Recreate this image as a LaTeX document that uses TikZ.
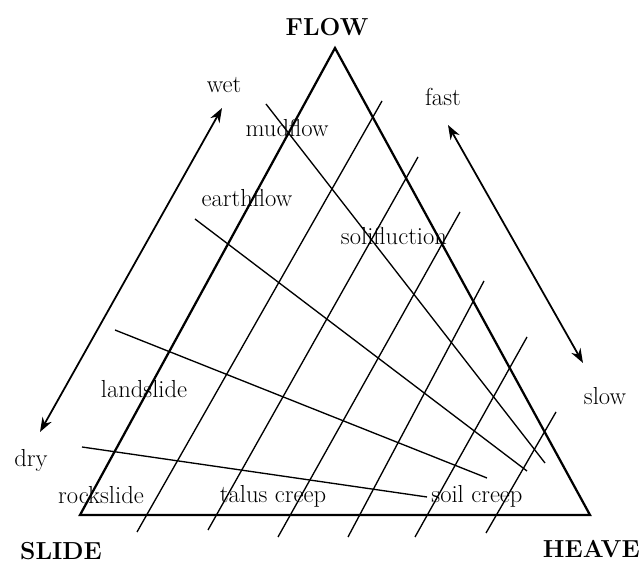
\documentclass[tikz,border=0pt]{standalone}
\usepackage{tikz}
\usetikzlibrary{arrows.meta}

\begin{document}
\begin{tikzpicture}[x=.025cm,y=-.025cm,>={Stealth[length=3.6mm,width=2.6mm]},
  font=\fontsize{17.5}{21}\selectfont,
  lbl/.style={anchor=base,inner sep=0pt},
  side/.style={line width=1.6pt,line join=miter},
  thin line/.style={line width=.95pt},
  scale arrow/.style={<->,line width=1.25pt}]
\useasboundingbox (0,0) rectangle (641,563);
% triangle
\coordinate (slide) at (80,515);
\coordinate (heave) at (590,515);
\coordinate (flow) at (335,48);
\draw[side] (slide)--(heave)--(flow)--cycle;
% lines parallel to slide--flow
\foreach \xa/\ya/\xb/\yb in {137/532/382/101,208/530/418/157,278/537/460/212,
  348/537/484/281,415/537/527/337,486/533/556/412}
  \draw[thin line] (\xa,\ya)--(\xb,\yb);
% fan towards heave
\foreach \xa/\ya/\xb/\yb in {266/104/545/463,195/219/527/471,115/330/487/478,82/447/427/497}
  \draw[thin line] (\xa,\ya)--(\xb,\yb);
% wet/dry and fast/slow
\coordinate (wettip) at (222,108);
\coordinate (drytip) at (40,432);
\coordinate (fasttip) at (448,125);
\coordinate (slowtip) at (583,363);
\draw[scale arrow] (wettip)--(drytip);
\draw[scale arrow] (fasttip)--(slowtip);
% corners
\node[lbl] (flowlbl) at (327,36) {\bfseries FLOW};
\node[lbl] (slidelbl) at (61,560) {\bfseries SLIDE};
\node[lbl,anchor=base east] (heavelbl) at (640,558) {\bfseries HEAVE};
% labels
\node[lbl] (wet) at (224,93) {wet};
\node[lbl] (dry) at (31,467) {dry};
\node[lbl] (fast) at (443,106) {fast};
\node[lbl] (slow) at (605,405) {slow};
\node[lbl] (mudflow) at (287,137) {mudflow};
\node[lbl] (earthflow) at (247,207) {earthflow};
\node[lbl] (solifluction) at (394,245) {solifluction};
\node[lbl] (landslide) at (144,398) {landslide};
\node[lbl] (rockslide) at (101,504) {rockslide};
\node[lbl] (talus) at (273,503) {talus creep};
\node[lbl] (soil) at (477,503) {soil creep};
\end{tikzpicture}
\end{document}
